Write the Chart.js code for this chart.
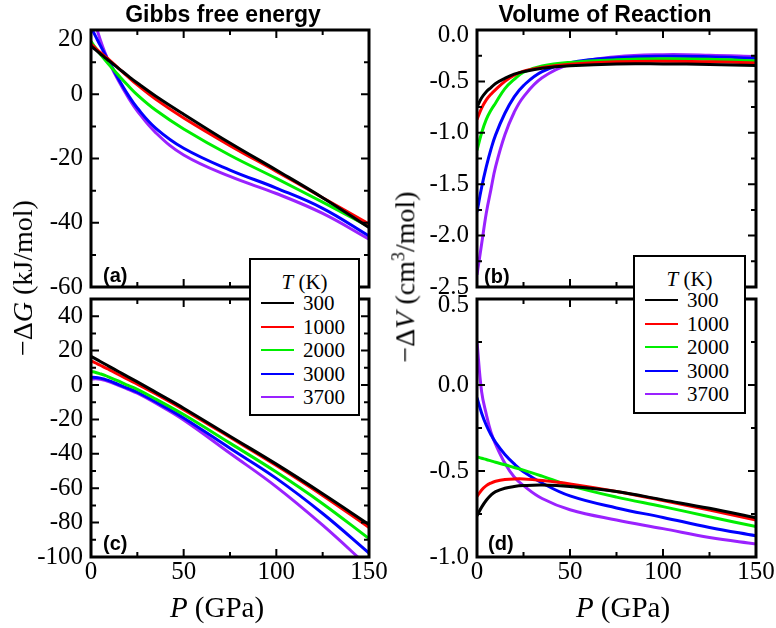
<!DOCTYPE html>
<html>
<head>
<meta charset="utf-8">
<script src="https://cdn.jsdelivr.net/npm/chart.js"></script>
<style>
  html, body { margin: 0; background: #fff; overflow: hidden; }
  #wrap { position: relative; width: 776px; height: 628px; overflow: hidden; }
  #wrap canvas { position: absolute; }
  .lbl { position: absolute; white-space: nowrap; transform: translate(-50%, -50%); color: #000; }
  .title { font: bold 23px 'Liberation Sans', Arial, sans-serif; }
  .axis { font: 29px 'Liberation Serif', 'Times New Roman', serif; }
  .ytitle { font: 28px 'Liberation Serif', 'Times New Roman', serif; transform: translate(-50%, -50%) rotate(-90deg); }
  .tag { position: absolute; font: bold 20px 'Liberation Sans', Arial, sans-serif; transform: translateY(-50%); }
  .legend { position: absolute; box-sizing: border-box; border: 2px solid #000; background: #fff; z-index: 5;
            font: 21px 'Liberation Serif', 'Times New Roman', serif; }
  .legend .row { position: absolute; left: 0; right: 0; height: 24px; transform: translateY(-50%); }
  .legend .swatch { position: absolute; left: 10px; width: 33px; height: 2px; top: 11px; }
  .legend .txt { position: absolute; left: 52px; top: 0; line-height: 24px; }
  .legend .head { position: absolute; left: 0; right: 0; text-align: center; line-height: 24px; transform: translateY(-50%); }
</style>
</head>
<body>
<div id="wrap"></div>
<script>
// pressure grid (GPa) shared by every curve
const pressure = [0, 2.5, 5, 7.5, 10, 15, 20, 25, 35, 50, 75, 100, 125, 150];
const temps = ['300', '1000', '2000', '3000', '3700'];
const lineColors = ['#000000', '#ff0000', '#00ee00', '#0000ff', '#9a22ff'];

// rows follow temps order
const gibbsA = [
  [15.0, 13.8, 12.6, 11.4, 10.3, 8.0, 5.7, 3.5, -0.6, -6.2, -15.2, -23.6, -32.2, -41.5],
  [15.6, 14.3, 13.0, 11.8, 10.6, 8.0, 5.4, 2.9, -1.6, -7.4, -16.0, -24.0, -32.2, -40.4],
  [16.5, 14.4, 12.5, 10.7, 9.0, 5.8, 2.7, -0.2, -5.0, -10.8, -19.0, -26.2, -33.6, -41.2],
  [20.8, 18.0, 15.2, 12.5, 9.9, 4.6, -0.2, -4.3, -10.6, -16.8, -23.6, -29.2, -35.5, -44.1],
  [27.0, 21.6, 17.0, 13.0, 9.6, 4.0, -0.9, -5.2, -12.0, -18.9, -25.6, -30.9, -37.1, -45.1]
];
const volumeB = [
  [-0.75, -0.66, -0.60, -0.56, -0.52, -0.47, -0.43, -0.405, -0.372, -0.348, -0.33, -0.33, -0.335, -0.345],
  [-0.87, -0.76, -0.68, -0.625, -0.58, -0.50, -0.44, -0.40, -0.365, -0.334, -0.31, -0.305, -0.31, -0.32],
  [-1.17, -1.0, -0.87, -0.78, -0.71, -0.57, -0.48, -0.41, -0.35, -0.315, -0.29, -0.28, -0.285, -0.30],
  [-1.77, -1.53, -1.33, -1.16, -1.02, -0.81, -0.65, -0.54, -0.405, -0.318, -0.27, -0.255, -0.26, -0.275],
  [-2.38, -2.08, -1.78, -1.55, -1.33, -1.02, -0.80, -0.65, -0.465, -0.334, -0.26, -0.24, -0.245, -0.26]
];
const gibbsC = [
  [16.7, 15.2, 13.7, 12.2, 10.7, 7.7, 4.7, 1.8, -4.3, -13.5, -29.8, -46.0, -63.2, -81.1],
  [14.1, 12.8, 11.5, 10.1, 8.8, 6.0, 3.2, 0.5, -5.2, -14.3, -30.4, -46.8, -64.2, -82.8],
  [7.9, 7.3, 6.5, 5.6, 4.5, 2.2, -0.2, -2.5, -8.2, -17.2, -33.8, -50.6, -69.0, -89.3],
  [4.5, 4.4, 4.0, 3.3, 2.4, 0.2, -2.0, -4.2, -9.9, -19.2, -36.8, -54.3, -74.7, -97.7],
  [3.4, 3.6, 3.4, 2.8, 1.9, -0.3, -2.5, -4.8, -10.6, -20.3, -39.7, -59.2, -81.5, -106.0]
];
const volumeD = [
  [-0.76, -0.71, -0.67, -0.64, -0.62, -0.60, -0.59, -0.585, -0.582, -0.59, -0.619, -0.668, -0.717, -0.772],
  [-0.648, -0.61, -0.585, -0.57, -0.56, -0.55, -0.546, -0.546, -0.555, -0.575, -0.619, -0.672, -0.727, -0.785],
  [-0.418, -0.426, -0.433, -0.441, -0.449, -0.464, -0.48, -0.495, -0.53, -0.585, -0.652, -0.707, -0.766, -0.823],
  [-0.074, -0.164, -0.234, -0.289, -0.334, -0.404, -0.459, -0.504, -0.57, -0.645, -0.715, -0.77, -0.828, -0.877],
  [0.25, -0.04, -0.17, -0.275, -0.345, -0.455, -0.535, -0.585, -0.66, -0.725, -0.785, -0.835, -0.887, -0.924]
];

const xTicks = [0, 50, 100, 150];
const ticksA = [20, 0, -20, -40, -60];
const ticksB = [0, -0.5, -1, -1.5, -2, -2.5];
const ticksC = [40, 20, 0, -20, -40, -60, -80, -100];
const ticksD = [0.5, 0, -0.5, -1];

const wrap = document.getElementById('wrap');
const tickFont = { family: "'Liberation Serif', 'Times New Roman', serif", size: 25 };

// box frame with inward major/minor ticks on all four sides
const framePlugin = {
  id: 'frame',
  afterDatasetsDraw(chart, args, opts) {
    const { ctx, chartArea: a, scales: { x, y } } = chart;
    const steps = (min, max, step) => {
      const out = [], n = Math.round((max - min) / step);
      for (let i = 0; i <= n; i++) out.push(min + i * step);
      return out;
    };
    ctx.save();
    ctx.strokeStyle = '#000';
    ctx.lineWidth = 2;
    ctx.beginPath();
    steps(x.min, x.max, opts.xMinor).forEach(v => {
      const len = opts.xMajor.some(m => Math.abs(m - v) < 1e-9) ? 8 : 5;
      const px = x.getPixelForValue(v);
      ctx.moveTo(px, a.bottom); ctx.lineTo(px, a.bottom - len);
      ctx.moveTo(px, a.top); ctx.lineTo(px, a.top + len);
    });
    steps(y.min, y.max, opts.yMinor).forEach(v => {
      const len = opts.yMajor.some(m => Math.abs(m - v) < 1e-9) ? 8 : 5;
      const py = y.getPixelForValue(v);
      ctx.moveTo(a.left, py); ctx.lineTo(a.left + len, py);
      ctx.moveTo(a.right, py); ctx.lineTo(a.right - len, py);
    });
    ctx.stroke();
    ctx.lineWidth = 3;
    ctx.strokeRect(a.left, a.top, a.width, a.height);
    ctx.restore();
  }
};

// topNudge: the top y label sits a few px below its tick in the original
function panel(geom, yMin, yMax, yTicks, yMinor, rows, showX, fmt, topNudge) {
  const yAxisW = 80, padTop = 16, padRight = 24, xAxisH = showX ? 44 : 16;
  const isTop = v => topNudge && Math.abs(v - yMax) < 1e-9;
  const c = document.createElement('canvas');
  c.width = yAxisW + geom.w + padRight;
  c.height = padTop + geom.h + xAxisH;
  c.style.width = c.width + 'px';
  c.style.height = c.height + 'px';
  wrap.appendChild(c);
  const chart = new Chart(c, {
    type: 'line',
    data: {
      datasets: rows.map((r, i) => ({
        label: temps[i],
        data: pressure.map((p, j) => ({ x: p, y: r[j] })),
        borderColor: lineColors[i], borderWidth: 3, pointRadius: 0,
        tension: 0.4, fill: false, clip: 0
      }))
    },
    options: {
      responsive: false, maintainAspectRatio: false, animation: false, events: [],
      layout: { autoPadding: false, padding: { top: padTop, right: padRight, left: 0, bottom: 0 } },
      plugins: {
        legend: { display: false }, tooltip: { enabled: false },
        frame: { xMinor: 25, xMajor: xTicks, yMinor, yMajor: yTicks }
      },
      scales: {
        x: {
          type: 'linear', min: 0, max: 150,
          afterBuildTicks: s => { s.ticks = xTicks.map(v => ({ value: v })); },
          afterFit: s => { s.height = xAxisH; },
          grid: { display: false, drawTicks: false }, border: { display: false },
          ticks: { display: showX, font: tickFont, color: '#000', padding: 0, maxRotation: 0, autoSkip: false }
        },
        y: {
          type: 'linear', min: yMin, max: yMax,
          afterBuildTicks: s => { s.ticks = yTicks.map(v => ({ value: v })); },
          afterFit: s => { s.width = yAxisW; },
          grid: { display: false, drawTicks: false }, border: { display: false },
          ticks: {
            color: '#000', padding: 8, autoSkip: false,
            font: ctx => (ctx.tick && isTop(ctx.tick.value))
              ? Object.assign({}, tickFont, { lineHeight: 2 * topNudge / tickFont.size }) : tickFont,
            callback: v => isTop(v) ? ['', fmt(v)] : fmt(v)
          }
        }
      }
    },
    plugins: [framePlugin]
  });
  // make the plot box land exactly on the measured frame
  let a = chart.chartArea;
  const dw = geom.w - (a.right - a.left), dh = geom.h - (a.bottom - a.top);
  if (Math.abs(dw) > 0.5 || Math.abs(dh) > 0.5) chart.resize(c.width + dw, c.height + dh);
  a = chart.chartArea;
  c.style.left = (geom.left - a.left) + 'px';
  c.style.top = (geom.top - a.top) + 'px';
  return chart;
}

const intFmt = v => String(v);
const decFmt = v => v.toFixed(1);
panel({ left: 91, top: 30, w: 278, h: 257 }, -60, 20, ticksA, 10, gibbsA, false, intFmt, 9);
panel({ left: 477, top: 30, w: 279, h: 257 }, -2.5, 0, ticksB, 0.25, volumeB, false, decFmt, 5);
panel({ left: 91, top: 299, w: 278, h: 258 }, -100, 50, ticksC, 10, gibbsC, true, intFmt, 0);
panel({ left: 477, top: 299, w: 279, h: 258 }, -1, 0.5, ticksD, 0.25, volumeD, true, decFmt, 6);

function text(cls, html, x, y) {
  const d = document.createElement('div');
  d.className = cls;
  d.innerHTML = html;
  d.style.left = x + 'px';
  d.style.top = y + 'px';
  wrap.appendChild(d);
}
text('lbl title', 'Gibbs free energy', 223, 14);
text('lbl title', 'Volume of Reaction', 605, 14);
text('lbl ytitle', '\u2212\u0394<i>G</i> (kJ/mol)', 23, 278);
text('lbl ytitle', '\u2212\u0394<i>V</i> (cm<sup style="font-size:18px">3</sup>/mol)', 405, 277);
text('lbl axis', '<i>P</i> (GPa)', 217, 607);
text('lbl axis', '<i>P</i> (GPa)', 623, 607);
text('tag', '(a)', 103, 275);
text('tag', '(b)', 484, 276);
text('tag', '(c)', 103, 543);
text('tag', '(d)', 488, 543);

function legend(left, top, w, h) {
  const box = document.createElement('div');
  box.className = 'legend';
  Object.assign(box.style, { left: left + 'px', top: top + 'px', width: w + 'px', height: h + 'px' });
  let html = '<div class="head" style="top:22px"><i>T</i> (K)</div>';
  temps.forEach((t, i) => {
    html += '<div class="row" style="top:' + (43 + i * 23.5) + 'px">' +
      '<span class="swatch" style="background:' + lineColors[i] + '"></span>' +
      '<span class="txt">' + t + '</span></div>';
  });
  box.innerHTML = html;
  wrap.appendChild(box);
}
legend(249, 258, 111, 158);
legend(633, 255, 113, 159);
</script>
</body>
</html>
